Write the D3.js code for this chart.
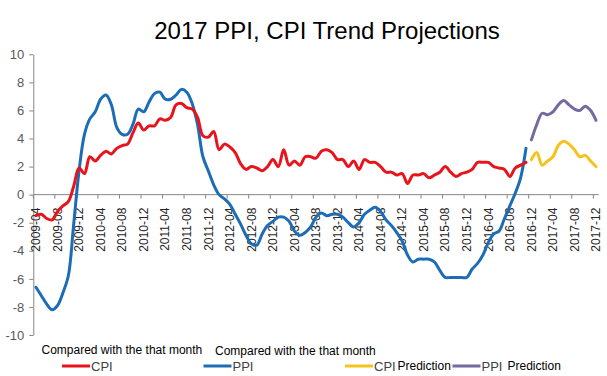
<!DOCTYPE html>
<html>
<head>
<meta charset="utf-8">
<script src="https://d3js.org/d3.v7.min.js"></script>
<style>
body{margin:0;background:#fff;}
text{font-family:"Liberation Sans", Arial, sans-serif;}
</style>
</head>
<body>
<svg id="chart" width="607" height="376"></svg>
<script>
// categories: monthly, 2009-04 .. 2017-12
const months = d3.timeMonth.range(new Date(2009,3,1), new Date(2018,0,1)).map(d3.timeFormat("%Y-%m"));
const tickLabels = ["2009-04","2009-08","2009-12","2010-04","2010-08","2010-12","2011-04","2011-08","2011-12",
  "2012-04","2012-08","2012-12","2013-04","2013-08","2013-12","2014-04","2014-08","2014-12",
  "2015-04","2015-08","2015-12","2016-04","2016-08","2016-12","2017-04","2017-08","2017-12"];
const yTicks = [-10,-8,-6,-4,-2,0,2,4,6,8,10];

// CPI, year on year, 2009-04 .. 2016-11
const cpi = [-1.5,-1.4,-1.7,-1.8,-1.2,-0.8,-0.5,0.6,1.9,
  1.5,2.7,2.4,2.8,3.1,2.9,3.3,3.5,3.6,4.4,5.1,4.6,
  4.9,4.9,5.4,5.3,5.5,6.4,6.5,6.2,6.1,5.5,4.2,4.1,
  4.5,3.2,3.6,3.4,3.0,2.2,1.8,2.0,1.9,1.7,2.0,2.5,
  2.0,3.2,2.1,2.4,2.1,2.7,2.7,2.6,3.1,3.2,3.0,2.5,
  2.5,2.0,2.4,1.8,2.5,2.3,2.3,2.0,1.6,1.6,1.4,1.5,
  0.8,1.4,1.4,1.5,1.2,1.4,1.6,2.0,1.6,1.3,1.5,1.6,
  1.8,2.3,2.3,2.3,2.0,1.9,1.8,1.3,1.9,2.1,2.3];
// PPI, year on year, 2009-04 .. 2016-11
const ppi = [-6.6,-7.2,-7.8,-8.2,-7.9,-7.0,-5.8,-2.1,1.7,
  4.3,5.4,5.9,6.8,7.1,6.4,4.8,4.3,4.3,5.0,6.1,5.9,
  6.6,7.2,7.3,6.8,6.8,7.1,7.5,7.3,6.5,5.0,2.7,1.7,
  0.7,0.0,-0.3,-0.7,-1.4,-2.1,-2.9,-3.5,-3.6,-2.8,-2.2,-1.9,
  -1.6,-1.6,-1.9,-2.6,-2.9,-2.7,-2.3,-1.6,-1.3,-1.5,-1.4,-1.4,
  -1.6,-2.0,-2.3,-2.0,-1.4,-1.1,-0.9,-1.2,-1.8,-2.2,-2.7,-3.3,
  -4.3,-4.8,-4.6,-4.6,-4.6,-4.8,-5.4,-5.9,-5.9,-5.9,-5.9,-5.9,
  -5.3,-4.9,-4.3,-3.4,-2.8,-2.6,-1.7,-0.8,0.1,1.2,3.3];
// predictions, 2016-12 .. 2017-12
const cpiPred = [2.5,3.0,2.1,2.4,2.7,3.5,3.8,3.6,3.2,2.7,2.8,2.4,2.0];
const ppiPred = [3.9,5.0,5.8,5.7,5.9,6.4,6.7,6.4,6.1,6.0,6.3,6.0,5.3];

const svg = d3.select("#chart");
const x = d3.scaleBand().domain(months).range([33.3, 598.7]).padding(0);
const y = d3.scaleLinear().domain([-10, 10]).range([335, 54.3]);
const xc = m => x(m) + x.bandwidth() / 2;

svg.append("text")
  .attr("x", 327).attr("y", 39)
  .attr("text-anchor", "middle")
  .style("font-size", "24px").style("fill", "#000")
  .text("2017 PPI, CPI Trend Projections");

// y axis
const yAxis = svg.append("g")
  .attr("transform", "translate(33.3,0)")
  .call(d3.axisLeft(y).tickValues(yTicks).tickFormat(d => String(d))
    .tickSize(4).tickPadding(5).tickSizeOuter(0));
yAxis.select(".domain").attr("stroke", "#868686");
yAxis.selectAll(".tick line").attr("stroke", "#868686");
yAxis.selectAll("text").style("font-size", "13px").style("fill", "#595959")
  .style("font-family", "'Liberation Sans', Arial, sans-serif");

// x axis at zero: ticks on band edges, labels at band centres
const x0 = y(0);
svg.append("line")
  .attr("x1", 33.3).attr("x2", 598.7).attr("y1", x0).attr("y2", x0)
  .attr("stroke", "#868686");
svg.selectAll("line.xtick").data(tickLabels).join("line")
  .attr("class", "xtick")
  .attr("x1", d => x(d)).attr("x2", d => x(d))
  .attr("y1", x0).attr("y2", x0 + 4)
  .attr("stroke", "#868686");
svg.selectAll("text.xlab").data(tickLabels).join("text")
  .attr("class", "xlab")
  .attr("transform", d => `translate(${xc(d)},${x0 + 13}) rotate(-90)`)
  .attr("text-anchor", "end")
  .attr("dy", "0.35em")
  .style("font-size", "12px").style("fill", "#262626")
  .text(d => d);

const line = d3.line()
  .x(d => xc(d[0])).y(d => y(d[1]))
  .curve(d3.curveCatmullRom.alpha(0.5));

const series = [
  {name: "PPI", color: "#1c6db5", data: d3.zip(months.slice(0, 92), ppi)},
  {name: "CPI", color: "#e8131b", data: d3.zip(months.slice(0, 92), cpi)},
  {name: "CPI Prediction", color: "#f5c31c", data: d3.zip(months.slice(92), cpiPred)},
  {name: "PPI Prediction", color: "#76699f", data: d3.zip(months.slice(92), ppiPred)}
];
svg.selectAll("path.series").data(series).join("path")
  .attr("class", "series")
  .attr("d", d => line(d.data))
  .attr("fill", "none")
  .attr("stroke", d => d.color)
  .attr("stroke-width", 3)
  .attr("stroke-linejoin", "round")
  .attr("stroke-linecap", "round");

// legend
svg.append("text").attr("x", 41.5).attr("y", 354).style("font-size", "12px").style("fill", "#000")
  .text("Compared with the that month");
svg.append("text").attr("x", 215).attr("y", 355).style("font-size", "12px").style("fill", "#000")
  .text("Compared with the that month");

const legend = [
  {key: "CPI", extra: "", color: "#e8131b", x: 62},
  {key: "PPI", extra: "", color: "#1c6db5", x: 203.5},
  {key: "CPI", extra: "Prediction", color: "#f5c31c", x: 345},
  {key: "PPI", extra: "Prediction", color: "#76699f", x: 452.5}
];
const lg = svg.selectAll("g.leg").data(legend).join("g")
  .attr("class", "leg")
  .attr("transform", d => `translate(${d.x},366)`);
lg.append("line").attr("x1", 0).attr("x2", 28).attr("y1", 0).attr("y2", 0)
  .attr("stroke", d => d.color).attr("stroke-width", 3);
lg.append("text").attr("x", 29).attr("y", 5)
  .style("font-size", "13px").style("fill", "#404040")
  .text(d => d.key);
lg.append("text").attr("x", d => d.key === "CPI" ? 52.5 : 55).attr("y", 4)
  .style("font-size", "12px").style("fill", "#000")
  .text(d => d.extra);
</script>
</body>
</html>
